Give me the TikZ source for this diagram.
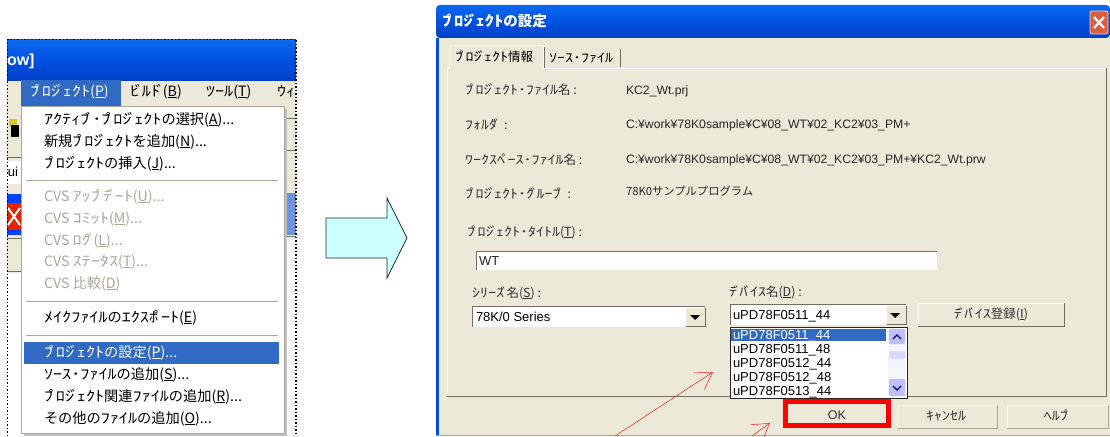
\documentclass[tikz,border=0pt]{standalone}
\usepackage{fontspec}
\setmainfont{Noto Sans CJK JP}
\newfontfamily\latn{Liberation Sans}
\newfontfamily\jpfamily{Noto Sans CJK JP}
\newfontfamily\hkfamily[FakeStretch=1.28]{Noto Sans CJK JP}
% half-width katakana: wider set, with tight voicing marks
\XeTeXinterchartokenstate=1
\count255="FF61
\loop\ifnum\count255<"FF9E
  \XeTeXcharclass\count255=10
  \advance\count255 by 1
\repeat
\XeTeXcharclass"FF9E=11
\XeTeXcharclass"FF9F=11
\XeTeXinterchartoks 0 10={\hkfamily}
\XeTeXinterchartoks 4095 10={\hkfamily}
\XeTeXinterchartoks 0 11={\hkfamily}
\XeTeXinterchartoks 10 0={\jpfamily}
\XeTeXinterchartoks 10 4095={\jpfamily}
\XeTeXinterchartoks 11 0={\kern-.14em\jpfamily}
\XeTeXinterchartoks 11 4095={\jpfamily}
\XeTeXinterchartoks 10 11={\kern-.3em}
\XeTeXinterchartoks 11 10={\kern-.14em}
\usetikzlibrary{arrows.meta}
\definecolor{xpbeige}{HTML}{ECE9D8}
\definecolor{xpsel}{HTML}{316AC5}
\definecolor{xpline}{HTML}{ACA899}
\definecolor{xpdark}{HTML}{716F64}
\definecolor{xpgrey}{HTML}{ACA899}
\definecolor{xptop}{HTML}{0A6AF0}
\definecolor{xpmid}{HTML}{0050E0}
\definecolor{xpbot}{HTML}{0040C8}
\definecolor{arrowfill}{HTML}{CCFFFF}
\definecolor{stripblue}{HTML}{6F92DE}
\definecolor{framelow}{HTML}{7FA5E8}
\definecolor{closered}{HTML}{D9603C}
\tikzset{
  x=1pt,y=-1pt,
  txt/.style={anchor=west,inner sep=0pt,outer sep=0pt,text height=1.0em,text depth=.2em},
  menuitem/.style={txt,font=\fontsize{14.2}{16}\selectfont,text=black},
  menubar/.style={txt,font=\fontsize{14.2}{16}\selectfont,text=black},
  menuoff/.style={menuitem,text=xpgrey},
  dlglabel/.style={txt,font=\fontsize{12.5}{15}\selectfont,text=black!80},
  dlgvalue/.style={txt,font=\latn\fontsize{12.2}{14}\selectfont,text=black!85},
  listtext/.style={txt,font=\latn\fontsize{13}{15}\selectfont,text=black},
  sep/.style={draw=xpline,line width=1pt},
  redarrow/.style={draw=red!90!white,line width=.5pt,-{Straight Barb[length=16.5pt,width=20pt,line width=.5pt]}},
}
\begin{document}
\begin{tikzpicture}
\useasboundingbox (0,0) rectangle (1110,436);
\fill[white] (0,0) rectangle (1110,436);

% ---- left screenshot ----
\fill[xpbeige] (7,80) rectangle (296,273);
\fill[white] (284,235) rectangle (296,436);
\shade[top color=xptop,bottom color=xpbot,middle color=xpmid] (7,40) rectangle (296,80);
\node[txt,font=\latn\bfseries\fontsize{16}{18}\selectfont,text=white] (wintitle) at (7,62) {ow]};
\fill[xpsel] (21,80) rectangle (121,106);
\node[menubar,text=white] (bar1) at (30,92) {ﾌﾟﾛｼﾞｪｸﾄ(\underline{P})};
\node[menubar] (bar2) at (130,92) {ﾋﾞﾙﾄﾞ(\underline{B})};
\node[menubar] (bar3) at (206,92) {ﾂｰﾙ(\underline{T})};
\node[menubar] (bar4) at (277,92) {ｳｨ};
% left strip behind the menu
\draw[xpdark,line width=1pt] (7,157) -- (21,157);
\fill[white] (7,161) rectangle (21,184);
\node[txt,font=\latn\fontsize{13}{15}\selectfont] (uicut) at (8,172) {ui};
\fill[blue!75!cyan] (7,194) rectangle (21,235);
\fill[red!70!orange!90!black] (7,203) rectangle (21,230);
\draw[white,line width=2pt] (8,208) -- (20,225) (8,225) -- (20,208);
\draw[xpdark,line width=1pt] (7,238) -- (21,238) (7,271) -- (21,271);
\fill[yellow!80!black] (9,119) rectangle (17,127);
\fill[black] (11,125) rectangle (19,137);
% right strip behind the menu
\draw[xpdark,line width=1pt] (284,118) -- (296,118) (284,150) -- (296,150);
\fill[stripblue] (284,193) rectangle (296,235);
\draw[xpdark,line width=1pt] (284,236) -- (296,236);
% menu
\fill[black!25] (24,109) rectangle (287,436);
\fill[white] (21,106) rectangle (284,433);
\draw[xpline,line width=1pt] (21,106) rectangle (284,433);
\node[menuitem] (m1) at (44,120) {ｱｸﾃｨﾌﾞ･ﾌﾟﾛｼﾞｪｸﾄの選択(\underline{A})...};
\node[menuitem] (m2) at (44,142) {新規ﾌﾟﾛｼﾞｪｸﾄを追加(\underline{N})...};
\node[menuitem] (m3) at (44,164) {ﾌﾟﾛｼﾞｪｸﾄの挿入(\underline{J})...};
\draw[sep] (26,180) -- (278,180);
\node[menuoff] (m4) at (44,197) {CVS ｱｯﾌﾟﾃﾞｰﾄ(\underline{U})...};
\node[menuoff] (m5) at (44,219) {CVS ｺﾐｯﾄ(\underline{M})...};
\node[menuoff] (m6) at (44,241) {CVS ﾛｸﾞ(\underline{L})...};
\node[menuoff] (m7) at (44,262) {CVS ｽﾃｰﾀｽ(\underline{T})...};
\node[menuoff] (m8) at (44,284) {CVS 比較(\underline{D})};
\draw[sep] (26,301) -- (278,301);
\node[menuitem] (m9) at (44,318) {ﾒｲｸﾌｧｲﾙのｴｸｽﾎﾟｰﾄ(\underline{E})};
\draw[sep] (26,335) -- (278,335);
\fill[xpsel] (24,342) rectangle (279,364);
\node[menuitem,text=white] (m10) at (44,353) {ﾌﾟﾛｼﾞｪｸﾄの設定(\underline{P})...};
\node[menuitem] (m11) at (44,375) {ｿｰｽ･ﾌｧｲﾙの追加(\underline{S})...};
\node[menuitem] (m12) at (44,397) {ﾌﾟﾛｼﾞｪｸﾄ関連ﾌｧｲﾙの追加(\underline{R})...};
\node[menuitem] (m13) at (44,419) {その他のﾌｧｲﾙの追加(\underline{O})...};
% dotted frame
\draw[black,line width=1.2pt,dash pattern=on 1.5pt off 2pt] (7.5,436) -- (7.5,39.5) -- (296,39.5) -- (296,436);

% ---- block arrow ----
\draw[black!85,line width=.8pt,fill=arrowfill] (326,218) -- (387,218) -- (387,198) -- (407,238) -- (387,278) -- (387,258) -- (326,258) -- cycle;

% ---- dialog ----
\fill[xpbeige] (436,5) rectangle (1110,436);
\shade[top color=xptop,bottom color=xpbot,middle color=xpmid,rounded corners=4pt] (436,38) -- (436,5) -- (1110,5) -- (1110,38) -- cycle;
\fill[xpmid] (436,38) rectangle (439,436);
\fill[framelow] (436,434.5) rectangle (1110,436);
\node[txt,font=\bfseries\fontsize{14.5}{16}\selectfont,text=white] (dlgtitle) at (442,23) {ﾌﾟﾛｼﾞｪｸﾄの設定};
\fill[closered,rounded corners=2pt,draw=white!80!red,line width=.8pt] (1090,11) rectangle (1108,34);
\draw[white,line width=2.2pt] (1094,17) -- (1104,28) (1094,28) -- (1104,17);
% tab pane
\draw[white,line width=1pt] (447,397) -- (447,68) -- (1106,68);
\draw[xpdark,line width=1pt] (447,396.5) -- (730,396.5) (907,396.5) -- (1106,396.5) (1106,396.5) -- (1106,68);
\path[fill=xpbeige,draw=white,line width=1pt] (449,68.5) -- (449,46) -- (543,46) -- (543,68.5);
\draw[xpdark,line width=1pt] (544,47) -- (544,68);
\draw[xpdark,line width=1pt] (620,49) -- (620,67);
\node[dlglabel,text=black] (tab1) at (455,58) {ﾌﾟﾛｼﾞｪｸﾄ情報};
\node[dlglabel,text=black] (tab2) at (549,59) {ｿｰｽ･ﾌｧｲﾙ};
% info rows
\node[dlglabel] (l1) at (465,90) {ﾌﾟﾛｼﾞｪｸﾄ･ﾌｧｲﾙ名 :};
\node[dlglabel] (l2) at (465,125) {ﾌｫﾙﾀﾞ :};
\node[dlglabel] (l3) at (465,160) {ﾜｰｸｽﾍﾟｰｽ･ﾌｧｲﾙ名 :};
\node[dlglabel] (l4) at (465,194) {ﾌﾟﾛｼﾞｪｸﾄ･ｸﾞﾙｰﾌﾟ :};
\node[dlgvalue] (v1) at (626,90) {KC2\_Wt.prj};
\node[dlgvalue] (v2) at (626,124) {C:¥work¥78K0sample¥C¥08\_WT¥02\_KC2¥03\_PM+};
\node[dlgvalue] (v3) at (626,159) {C:¥work¥78K0sample¥C¥08\_WT¥02\_KC2¥03\_PM+¥KC2\_Wt.prw};
\node[dlgvalue,font=\jpfamily\fontsize{11.3}{14}\selectfont] (v4) at (626,191) {78K0サンプルプログラム};
% project title
\node[dlglabel] (l5) at (467,232) {ﾌﾟﾛｼﾞｪｸﾄ･ﾀｲﾄﾙ(\underline{T}) :};
\fill[white] (476,251) rectangle (937,270);
\draw[xpdark,line width=1pt] (476,270) -- (476,251) -- (937,251);
\node[listtext,text=black!85] (wt) at (479,261) {WT};
% series
\node[dlglabel] (l6) at (472,293) {ｼﾘｰｽﾞ名(\underline{S}) :};
\fill[white] (472,306) rectangle (705,327);
\draw[xpdark,line width=1pt] (472,327) -- (472,306) -- (705,306);
\node[listtext] (series) at (476,317) {78K/0 Series};
\fill[xpbeige] (686,308) rectangle (705,326);
\draw[xpdark,line width=.8pt] (686,326) -- (705,326) -- (705,308);
\fill[black] (690,315) -- (700,315) -- (695,320) -- cycle;
% device
\node[dlglabel] (l7) at (729,292) {ﾃﾞﾊﾞｲｽ名(\underline{D}) :};
\fill[white] (730,304) rectangle (906,325);
\draw[xpdark,line width=1pt] (730,325) -- (730,304) -- (906,304);
\node[listtext] (device) at (733,315) {uPD78F0511\_44};
\fill[xpbeige] (887,306) rectangle (906,324);
\draw[xpdark,line width=.8pt] (887,324) -- (906,324) -- (906,306);
\fill[black] (890,313) -- (900,313) -- (895,318) -- cycle;
% register button
\fill[xpbeige] (918,303) rectangle (1064,326);
\draw[xpdark,line width=1pt] (918,326) -- (1064,326) -- (1064,303);
\draw[white,line width=1pt] (918,326) -- (918,303) -- (1064,303);
\node[dlglabel,anchor=center] (regbtn) at (991,314) {ﾃﾞﾊﾞｲｽ登録(\underline{I})};
% drop list
\draw[fill=white,draw=black!85,line width=.8pt] (730,327) rectangle (907,398);
\fill[xpsel] (731,328.5) rectangle (886,341);
\node[listtext,text=white] (d1) at (733,335) {uPD78F0511\_44};
\node[listtext] (d2) at (733,349) {uPD78F0511\_48};
\node[listtext] (d3) at (733,363) {uPD78F0512\_44};
\node[listtext] (d4) at (733,377) {uPD78F0512\_48};
\node[listtext] (d5) at (733,391) {uPD78F0513\_44};
\fill[blue!4!white] (888,328) rectangle (906,397);
\fill[blue!25!white,rounded corners=1pt] (889,329) rectangle (905,344);
\draw[blue!50!black,line width=1.3pt] (893,339) -- (897,335) -- (901,339);
\fill[blue!15!white,rounded corners=1pt] (889,351) rectangle (905,359);
\fill[blue!25!white,rounded corners=1pt] (889,379) rectangle (905,396);
\draw[blue!50!black,line width=1.3pt] (893,386) -- (897,390) -- (901,386);
% bottom buttons
\fill[xpbeige] (789,404) rectangle (886,424);
\node[dlglabel,anchor=center,font=\latn\fontsize{12.5}{14}\selectfont] (okbtn) at (837,415) {OK};
\draw[red,line width=5pt] (785.5,401.5) rectangle (888.5,425.5);
\fill[xpbeige] (897,405) rectangle (997,428);
\draw[xpline,line width=1pt] (897,428) -- (997,428) -- (997,405);
\draw[white,line width=1pt] (897,428) -- (897,405) -- (997,405);
\node[dlglabel,anchor=center] (cancelbtn) at (946,416) {ｷｬﾝｾﾙ};
\fill[xpbeige] (1007,405) rectangle (1108,428);
\draw[xpline,line width=1pt] (1007,428) -- (1108,428) -- (1108,405);
\draw[white,line width=1pt] (1007,428) -- (1007,405) -- (1108,405);
\node[dlglabel,anchor=center] (helpbtn) at (1058,416) {ﾍﾙﾌﾟ};
% red arrows
\coordinate (a1s) at (615,436);
\coordinate (a1e) at (713,372);
\coordinate (a2s) at (752,436);
\coordinate (a2e) at (770,423);
\draw[redarrow] (a1s) -- (a1e);
\draw[redarrow] (a2s) -- (a2e);
\end{tikzpicture}
\end{document}
